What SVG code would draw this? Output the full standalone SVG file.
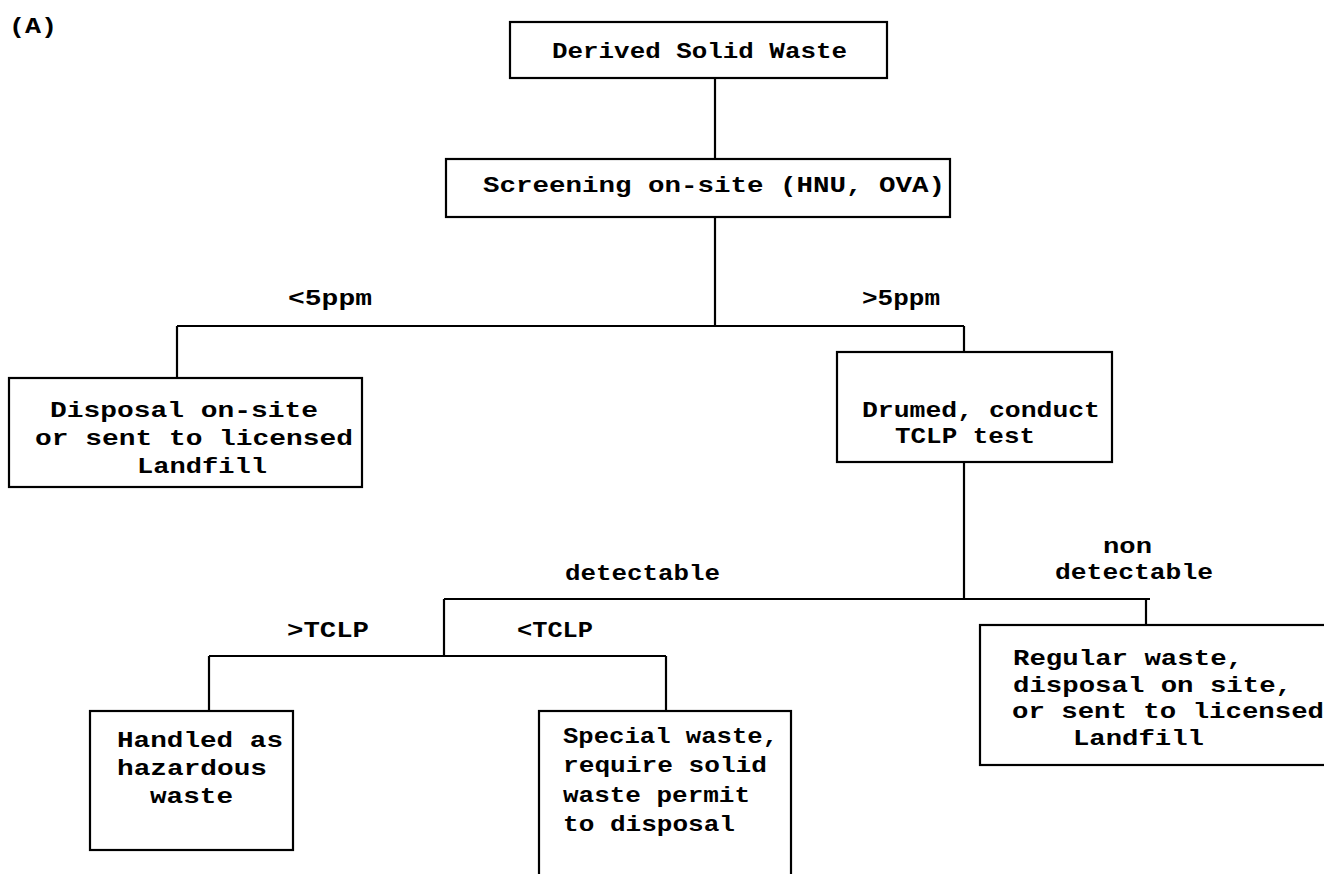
<svg xmlns="http://www.w3.org/2000/svg" width="1324" height="874" viewBox="0 0 1324 874">
<style>
.box{fill:none;stroke:#000;stroke-width:2.2}
.ln{fill:none;stroke:#000;stroke-width:2.2}
text{font-family:"Liberation Mono","Courier New",monospace;font-weight:bold;font-size:22px;fill:#000}
</style>
<rect x="0" y="0" width="1324" height="874" fill="#fff"/>
<text x="9" y="33" textLength="48" lengthAdjust="spacingAndGlyphs">(A)</text>
<g id="connectors">
<path class="ln" d="M715 78V159"/>
<path class="ln" d="M715 217V326"/>
<path class="ln" d="M177 326H964"/>
<path class="ln" d="M177 326V378"/>
<path class="ln" d="M964 326V352"/>
<path class="ln" d="M964 462V599"/>
<path class="ln" d="M444 599H1150"/>
<path class="ln" d="M1146 599V625"/>
<path class="ln" d="M444 599V656"/>
<path class="ln" d="M209 656H666"/>
<path class="ln" d="M209 656V711"/>
<path class="ln" d="M666 656V711"/>
<text x="288" y="305" textLength="84" lengthAdjust="spacingAndGlyphs">&lt;5ppm</text>
<text x="862" y="305" textLength="78" lengthAdjust="spacingAndGlyphs">&gt;5ppm</text>
<text x="565" y="580" textLength="155" lengthAdjust="spacingAndGlyphs">detectable</text>
<text x="1103" y="553" textLength="49" lengthAdjust="spacingAndGlyphs">non</text>
<text x="1055" y="579" textLength="158" lengthAdjust="spacingAndGlyphs">detectable</text>
<text x="287" y="637" textLength="82" lengthAdjust="spacingAndGlyphs">&gt;TCLP</text>
<text x="517" y="637" textLength="76" lengthAdjust="spacingAndGlyphs">&lt;TCLP</text>
</g>
<g id="derived">
<rect class="box" x="510" y="22" width="377" height="56"/>
<text x="552" y="58" textLength="295" lengthAdjust="spacingAndGlyphs">Derived Solid Waste</text>
</g>
<g id="screening">
<rect class="box" x="446" y="159" width="504" height="58"/>
<text x="483" y="192" textLength="462" lengthAdjust="spacingAndGlyphs">Screening on-site (HNU, OVA)</text>
</g>
<g id="disposal">
<rect class="box" x="9" y="378" width="353" height="109"/>
<text x="50" y="417" textLength="268" lengthAdjust="spacingAndGlyphs">Disposal on-site</text>
<text x="35" y="445" textLength="318" lengthAdjust="spacingAndGlyphs">or sent to licensed</text>
<text x="137" y="473" textLength="130" lengthAdjust="spacingAndGlyphs">Landfill</text>
</g>
<g id="drumed">
<rect class="box" x="837" y="352" width="275" height="110"/>
<text x="862" y="417" textLength="238" lengthAdjust="spacingAndGlyphs">Drumed, conduct</text>
<text x="895" y="443" textLength="140" lengthAdjust="spacingAndGlyphs">TCLP test</text>
</g>
<g id="regular">
<rect class="box" x="980" y="625" width="360" height="140"/>
<text x="1013" y="665" textLength="230" lengthAdjust="spacingAndGlyphs">Regular waste,</text>
<text x="1013" y="692" textLength="279" lengthAdjust="spacingAndGlyphs">disposal on site,</text>
<text x="1012" y="718" textLength="312" lengthAdjust="spacingAndGlyphs">or sent to licensed</text>
<text x="1073" y="745" textLength="131" lengthAdjust="spacingAndGlyphs">Landfill</text>
</g>
<g id="handled">
<rect class="box" x="90" y="711" width="203" height="139"/>
<text x="117" y="747" textLength="166" lengthAdjust="spacingAndGlyphs">Handled as</text>
<text x="117" y="775" textLength="150" lengthAdjust="spacingAndGlyphs">hazardous</text>
<text x="150" y="803" textLength="83" lengthAdjust="spacingAndGlyphs">waste</text>
</g>
<g id="special">
<rect class="box" x="539" y="711" width="252" height="180"/>
<text x="563" y="743" textLength="215" lengthAdjust="spacingAndGlyphs">Special waste,</text>
<text x="563" y="772" textLength="204" lengthAdjust="spacingAndGlyphs">require solid</text>
<text x="563" y="802" textLength="187" lengthAdjust="spacingAndGlyphs">waste permit</text>
<text x="563" y="831" textLength="172" lengthAdjust="spacingAndGlyphs">to disposal</text>
</g>
</svg>
